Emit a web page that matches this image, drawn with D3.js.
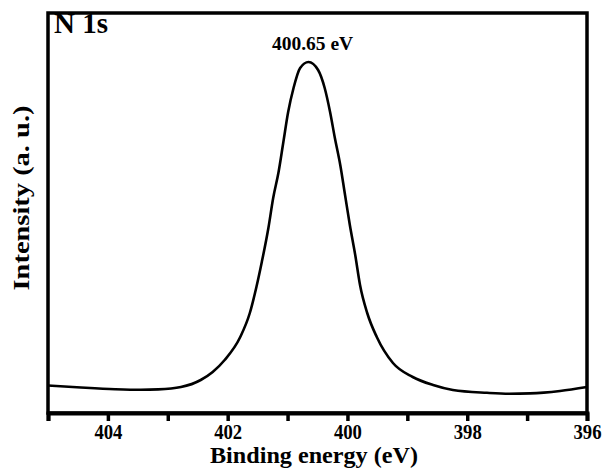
<!DOCTYPE html>
<html>
<head>
<meta charset="utf-8">
<script src="https://cdn.jsdelivr.net/npm/d3@7"></script>
<style>
  body { margin: 0; background: #fff; }
  text { font-family: "Liberation Serif", "Times New Roman", serif; font-weight: bold; fill: #000; }
</style>
</head>
<body>
<div id="wrapper"></div>
<script>
// N 1s spectrum (binding energy in eV, intensity in a.u.)
const energies = [
  405.00, 404.45, 403.88, 403.45, 403.16, 402.78, 402.45, 402.25, 402.05, 401.79, 401.63,
  401.52, 401.43, 401.32, 401.24, 401.15, 401.07, 400.99, 400.90, 400.79, 400.65,
  400.49, 400.38, 400.29, 400.21, 400.12, 400.04, 399.96, 399.87, 399.79, 399.67,
  399.51, 399.24, 398.91, 398.57, 398.24, 397.67, 397.30, 396.95, 396.45, 396.00
];
const intensities = [
  27.5, 25.5, 23.8, 23.2, 23.6, 26, 33, 41, 53, 76, 100,
  126, 151, 185, 215, 241, 271, 301, 325, 345, 351,
  343, 325, 301, 275, 248, 218, 188, 158, 128, 100,
  76, 50, 36, 28, 23, 20.2, 19.3, 19.6, 22, 26
];
const xTicks = [405, 404, 403, 402, 401, 400, 399, 398, 397, 396];
const xLabels = [404, 402, 400, 398, 396];
const peakPosition = 400.65;
const peakLabel = "400.65 eV";
const spectrumLabel = "N 1s";

const dataset = energies.map((e, i) => ({ energy: e, intensity: intensities[i] }));

const dimensions = {
  width: 607,
  height: 470,
  margin: { top: 13, right: 20, bottom: 57, left: 48 },
};
dimensions.boundedWidth = dimensions.width - dimensions.margin.left - dimensions.margin.right;
dimensions.boundedHeight = dimensions.height - dimensions.margin.top - dimensions.margin.bottom;

const xAccessor = (d) => d.energy;
const yAccessor = (d) => d.intensity;

const wrapper = d3
  .select("#wrapper")
  .append("svg")
  .attr("width", dimensions.width)
  .attr("height", dimensions.height);

const bounds = wrapper
  .append("g")
  .attr("transform", `translate(${dimensions.margin.left},${dimensions.margin.top})`);

const xScale = d3.scaleLinear().domain([405, 396]).range([0, dimensions.boundedWidth]);
const yScale = d3.scaleLinear().domain([0, 400]).range([dimensions.boundedHeight, 0]);

// frame
bounds
  .append("rect")
  .attr("x", 0)
  .attr("y", 0)
  .attr("width", dimensions.boundedWidth)
  .attr("height", dimensions.boundedHeight)
  .attr("fill", "none")
  .attr("stroke", "#000")
  .attr("stroke-width", 3.5);

// spectrum (pixel x grows as energy falls, so monotoneX is fine)
const lineGenerator = d3
  .line()
  .x((d) => xScale(xAccessor(d)))
  .y((d) => yScale(yAccessor(d)))
  .curve(d3.curveMonotoneX);

bounds
  .append("path")
  .attr("d", lineGenerator(dataset))
  .attr("fill", "none")
  .attr("stroke", "#000")
  .attr("stroke-width", 2.6);

// x axis
const xAxisGenerator = d3
  .axisBottom(xScale)
  .tickValues(xTicks)
  .tickSize(8)
  .tickFormat((d) => (xLabels.includes(d) ? d : ""));

const xAxis = bounds
  .append("g")
  .attr("transform", `translate(0,${dimensions.boundedHeight})`)
  .call(xAxisGenerator);

xAxis.select(".domain").attr("stroke", "#000").attr("stroke-width", 4);
xAxis.selectAll(".tick line").attr("stroke", "#000").attr("stroke-width", 3.5);
xAxis
  .selectAll(".tick text")
  .attr("y", 26)
  .attr("dy", 0)
  .style("font-family", '"Liberation Serif", serif')
  .style("font-weight", "bold")
  .style("font-size", "21px")
  .attr("textLength", (d) => (xLabels.includes(d) ? 28 : null))
  .attr("lengthAdjust", "spacingAndGlyphs")
  .attr("fill", "#000");

// axis titles
wrapper
  .append("text")
  .attr("x", 314)
  .attr("y", 463)
  .attr("text-anchor", "middle")
  .style("font-size", "23px")
  .attr("textLength", 208)
  .attr("lengthAdjust", "spacingAndGlyphs")
  .text("Binding energy (eV)");

wrapper
  .append("text")
  .attr("transform", "translate(29,198) rotate(-90)")
  .attr("text-anchor", "middle")
  .style("font-size", "23px")
  .attr("textLength", 185)
  .attr("lengthAdjust", "spacingAndGlyphs")
  .text("Intensity (a. u.)");

// annotations
bounds
  .append("text")
  .attr("x", 6)
  .attr("y", 20)
  .style("font-size", "29px")
  .text(spectrumLabel);

bounds
  .append("text")
  .attr("x", xScale(peakPosition) + 4)
  .attr("y", 37)
  .attr("text-anchor", "middle")
  .style("font-size", "19.5px")
  .text(peakLabel);
</script>
</body>
</html>
